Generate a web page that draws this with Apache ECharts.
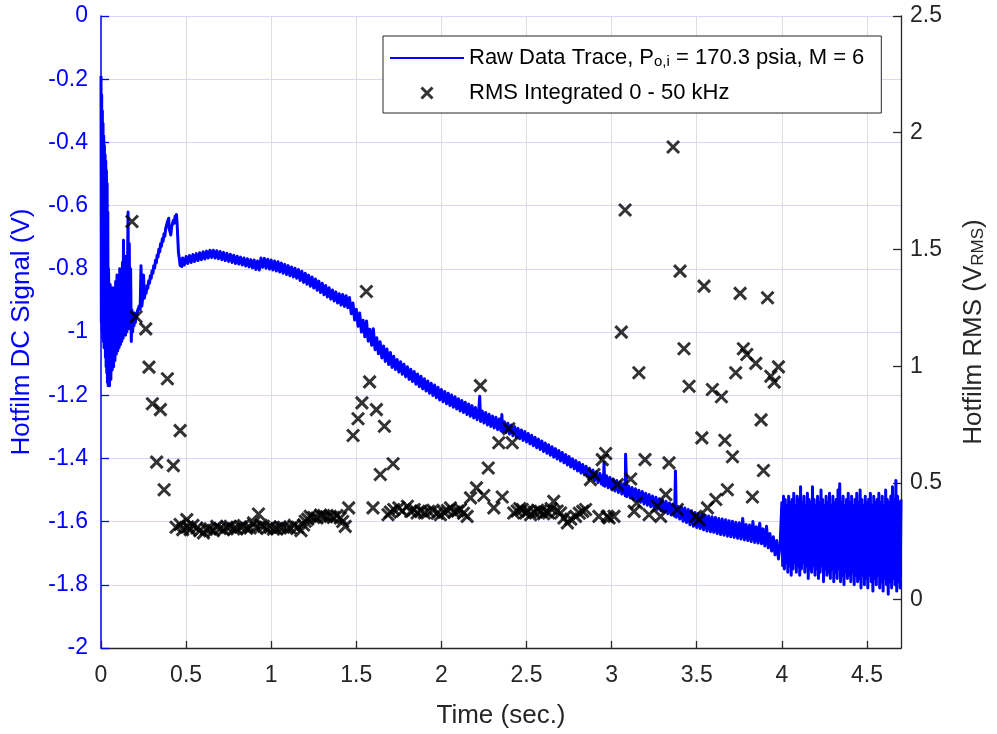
<!DOCTYPE html>
<html><head><meta charset="utf-8">
<script src="https://cdn.jsdelivr.net/npm/echarts@6/dist/echarts.min.js"></script>
<style>html,body{margin:0;padding:0;background:#fff}#chart{width:997px;height:734px}</style>
</head><body><div id="chart"></div>
<script>
// ---------- DATA ----------
const traceName = 'Raw Data Trace, Po,i = 170.3 psia, M = 6';
const rmsName = 'RMS Integrated 0 - 50 kHz';
const rightTicks = [0, 0.5, 1, 1.5, 2, 2.5];

// Raw hot-film trace [time s, volts]
const traceOnset = [[0,-0.19],[0.002,-0.97],[0.004,-0.25],[0.006,-1.00],[0.008,-0.30],[0.010,-1.02],[0.012,-0.34],[0.014,-1.03],[0.016,-0.38],[0.018,-1.05],[0.020,-0.41],[0.022,-1.04],[0.024,-0.44],[0.026,-1.08],[0.028,-0.46],[0.030,-1.11],[0.032,-0.49],[0.034,-1.13],[0.036,-0.53],[0.038,-1.16],[0.040,-0.62],[0.042,-1.17],[0.044,-0.80]];
const traceSettle = [[0.046,-0.86],[0.050,-1.17],[0.054,-0.85],[0.058,-1.15],[0.062,-0.87],[0.066,-1.12],[0.070,-0.86],[0.074,-1.11],[0.078,-0.88],[0.082,-1.09],[0.086,-0.84],[0.090,-1.07],[0.094,-0.82],[0.098,-1.06],[0.102,-0.86],[0.106,-1.05],[0.110,-0.80],[0.114,-1.04],[0.118,-0.84],[0.122,-1.03],[0.126,-0.78],[0.130,-1.02],[0.132,-0.71],[0.136,-1.01],[0.140,-0.80],[0.144,-1.01],[0.148,-0.76],[0.152,-1.00],[0.156,-1.00],[0.159,-0.62],[0.162,-0.99],[0.166,-0.72],[0.170,-0.98],[0.174,-0.80],[0.178,-1.03],[0.182,-0.93],[0.186,-1.00],[0.190,-0.94],[0.194,-0.98],[0.198,-0.94],[0.202,-0.97]];
const traceRise = [[0.205,-0.942],[0.21,-0.953],[0.215,-0.932],[0.22,-0.938],[0.225,-0.917],[0.23,-0.928],[0.235,-0.79],[0.24,-0.918],[0.245,-0.892],[0.25,-0.82],[0.255,-0.893],[0.26,-0.870],[0.265,-0.878],[0.27,-0.854],[0.275,-0.862],[0.28,-0.838],[0.285,-0.846],[0.29,-0.822],[0.295,-0.830],[0.30,-0.806],[0.305,-0.814],[0.31,-0.790],[0.315,-0.798],[0.32,-0.773],[0.325,-0.781],[0.33,-0.756],[0.335,-0.763],[0.34,-0.738],[0.345,-0.746],[0.35,-0.721],[0.355,-0.729],[0.36,-0.705],[0.365,-0.713],[0.37,-0.689],[0.375,-0.697],[0.38,-0.672],[0.385,-0.678],[0.39,-0.652],[0.395,-0.656],[0.398,-0.640],[0.40,-0.673],[0.405,-0.682],[0.41,-0.693],[0.415,-0.667],[0.42,-0.673],[0.425,-0.647],[0.43,-0.656],[0.435,-0.634],[0.44,-0.644],[0.443,-0.628],[0.447,-0.655],[0.45,-0.660],[0.455,-0.748],[0.46,-0.767],[0.465,-0.790],[0.47,-0.770],[0.475,-0.793]];
const tracePlateau = [[0.48,-0.766],[0.49,-0.788],[0.50,-0.761],[0.51,-0.783],[0.52,-0.758],[0.53,-0.780],[0.54,-0.755],[0.55,-0.777],[0.56,-0.752],[0.57,-0.774],[0.58,-0.749],[0.59,-0.771],[0.60,-0.746],[0.61,-0.769],[0.62,-0.744],[0.63,-0.766],[0.64,-0.741],[0.65,-0.764],[0.66,-0.741],[0.67,-0.766],[0.68,-0.743],[0.69,-0.768],[0.70,-0.745],[0.71,-0.771],[0.72,-0.748],[0.73,-0.774],[0.74,-0.751],[0.75,-0.777],[0.76,-0.754],[0.77,-0.780],[0.78,-0.757],[0.79,-0.783],[0.80,-0.760],[0.81,-0.785],[0.82,-0.763],[0.83,-0.788],[0.84,-0.766],[0.85,-0.791],[0.86,-0.768],[0.87,-0.794],[0.88,-0.771],[0.89,-0.797],[0.90,-0.772],[0.91,-0.802],[0.92,-0.775],[0.93,-0.804],[0.94,-0.766],[0.95,-0.795],[0.96,-0.767],[0.97,-0.798],[0.98,-0.770],[0.99,-0.801],[1.00,-0.772],[1.01,-0.804],[1.02,-0.775],[1.03,-0.807],[1.04,-0.778],[1.05,-0.810],[1.06,-0.782],[1.07,-0.814],[1.08,-0.786],[1.09,-0.818],[1.10,-0.790],[1.11,-0.822],[1.12,-0.794],[1.13,-0.826],[1.14,-0.798],[1.15,-0.830],[1.16,-0.802],[1.17,-0.837],[1.18,-0.808],[1.19,-0.843],[1.20,-0.814],[1.21,-0.849],[1.22,-0.820],[1.23,-0.855],[1.24,-0.826],[1.25,-0.861],[1.26,-0.832],[1.27,-0.868],[1.28,-0.839],[1.29,-0.875],[1.30,-0.846],[1.31,-0.882],[1.32,-0.853],[1.33,-0.889],[1.34,-0.860],[1.35,-0.896],[1.36,-0.867],[1.37,-0.902],[1.38,-0.873],[1.39,-0.908],[1.40,-0.879],[1.41,-0.915],[1.42,-0.881],[1.43,-0.919],[1.44,-0.885],[1.45,-0.923]];
const traceDecay = [[1.46,-0.891],[1.47,-0.942],[1.48,-0.908],[1.49,-0.962],[1.50,-0.928],[1.51,-0.982],[1.52,-0.940],[1.53,-1.000],[1.54,-0.963],[1.55,-1.015],[1.56,-0.965],[1.57,-1.029],[1.58,-0.991],[1.59,-1.042],[1.60,-0.990],[1.61,-1.056],[1.62,-1.018],[1.63,-1.069],[1.64,-1.031],[1.65,-1.082],[1.66,-1.044],[1.67,-1.093],[1.68,-1.054],[1.69,-1.103],[1.70,-1.065],[1.71,-1.112],[1.72,-1.077],[1.73,-1.119],[1.74,-1.087],[1.75,-1.127],[1.76,-1.094],[1.77,-1.134],[1.78,-1.102],[1.79,-1.142],[1.80,-1.110],[1.81,-1.150],[1.82,-1.118],[1.83,-1.157],[1.84,-1.125],[1.85,-1.165],[1.86,-1.133],[1.87,-1.173],[1.88,-1.140],[1.89,-1.180],[1.90,-1.148],[1.91,-1.187],[1.92,-1.155],[1.93,-1.194],[1.94,-1.162],[1.95,-1.201],[1.96,-1.168],[1.97,-1.208],[1.98,-1.175],[1.99,-1.215],[2.00,-1.182],[2.01,-1.221],[2.02,-1.188],[2.03,-1.227],[2.04,-1.194],[2.05,-1.233],[2.06,-1.199],[2.07,-1.238],[2.08,-1.205],[2.09,-1.244],[2.10,-1.211],[2.11,-1.250],[2.12,-1.217],[2.13,-1.255],[2.14,-1.222],[2.15,-1.261],[2.16,-1.228],[2.17,-1.267],[2.18,-1.233],[2.19,-1.272],[2.20,-1.239],[2.21,-1.278],[2.22,-1.244],[2.225,-1.203],[2.23,-1.283],[2.24,-1.250],[2.25,-1.288],[2.26,-1.255],[2.27,-1.294],[2.28,-1.260],[2.29,-1.299],[2.30,-1.266],[2.31,-1.304],[2.32,-1.270],[2.33,-1.309],[2.34,-1.275],[2.35,-1.313],[2.355,-1.261],[2.36,-1.316],[2.37,-1.284],[2.38,-1.318],[2.39,-1.289],[2.40,-1.323],[2.41,-1.294],[2.42,-1.328],[2.43,-1.300],[2.44,-1.333],[2.45,-1.305],[2.46,-1.338],[2.47,-1.310],[2.48,-1.343],[2.49,-1.315],[2.50,-1.348],[2.51,-1.321],[2.52,-1.354],[2.53,-1.327],[2.54,-1.360],[2.55,-1.333],[2.56,-1.366],[2.57,-1.339],[2.58,-1.372],[2.59,-1.345],[2.60,-1.378],[2.61,-1.351],[2.62,-1.384],[2.63,-1.357],[2.64,-1.390],[2.65,-1.363],[2.66,-1.396],[2.67,-1.369],[2.68,-1.402],[2.69,-1.375],[2.70,-1.408],[2.71,-1.381],[2.72,-1.414],[2.73,-1.388],[2.74,-1.421],[2.75,-1.394],[2.76,-1.427],[2.77,-1.401],[2.78,-1.433],[2.79,-1.407],[2.80,-1.440],[2.81,-1.413],[2.82,-1.446],[2.83,-1.419],[2.84,-1.452],[2.85,-1.425],[2.86,-1.458],[2.87,-1.431],[2.88,-1.464],[2.89,-1.437],[2.90,-1.470],[2.91,-1.442],[2.92,-1.476],[2.93,-1.447],[2.94,-1.481],[2.95,-1.452],[2.952,-1.486],[2.955,-1.413],[2.96,-1.488],[2.97,-1.455],[2.98,-1.493],[2.99,-1.460],[3.00,-1.498],[3.01,-1.465],[3.02,-1.503],[3.03,-1.470],[3.04,-1.508],[3.05,-1.475],[3.06,-1.513],[3.07,-1.480],[3.08,-1.518],[3.082,-1.387],[3.09,-1.521],[3.10,-1.487],[3.11,-1.525],[3.12,-1.492],[3.13,-1.530],[3.14,-1.496],[3.15,-1.535],[3.16,-1.501],[3.17,-1.539],[3.18,-1.505],[3.19,-1.544],[3.20,-1.510],[3.21,-1.548],[3.22,-1.514],[3.23,-1.553],[3.24,-1.519],[3.25,-1.557],[3.26,-1.523],[3.27,-1.561],[3.28,-1.528],[3.29,-1.566],[3.30,-1.532],[3.31,-1.570],[3.32,-1.536],[3.33,-1.575],[3.34,-1.541],[3.35,-1.579],[3.36,-1.545],[3.37,-1.583],[3.375,-1.440],[3.38,-1.586],[3.39,-1.552],[3.40,-1.592],[3.41,-1.554],[3.42,-1.599],[3.43,-1.557],[3.44,-1.603],[3.45,-1.562],[3.46,-1.610],[3.47,-1.566],[3.48,-1.615],[3.49,-1.571],[3.50,-1.619],[3.51,-1.574],[3.52,-1.622],[3.53,-1.577],[3.54,-1.626],[3.55,-1.580],[3.56,-1.630],[3.57,-1.582],[3.58,-1.632],[3.59,-1.585],[3.60,-1.634],[3.61,-1.587],[3.62,-1.638],[3.63,-1.590],[3.64,-1.641],[3.65,-1.592],[3.66,-1.643],[3.67,-1.594],[3.68,-1.646],[3.69,-1.597],[3.70,-1.648],[3.71,-1.599],[3.72,-1.650],[3.73,-1.602],[3.74,-1.653],[3.75,-1.604],[3.76,-1.655],[3.77,-1.590],[3.78,-1.658],[3.79,-1.609],[3.80,-1.660],[3.81,-1.611],[3.82,-1.663],[3.83,-1.600],[3.84,-1.666],[3.85,-1.616],[3.86,-1.668],[3.87,-1.605],[3.88,-1.670],[3.89,-1.623],[3.90,-1.677],[3.91,-1.615],[3.92,-1.683],[3.93,-1.638],[3.94,-1.693],[3.95,-1.648],[3.96,-1.705],[3.97,-1.660],[3.98,-1.718],[3.99,-1.672]];
const traceNoise = [[4.000,-1.54],[4.005,-1.74],[4.010,-1.52],[4.015,-1.75],[4.020,-1.53],[4.025,-1.73],[4.030,-1.55],[4.035,-1.76],[4.040,-1.52],[4.045,-1.74],[4.050,-1.54],[4.055,-1.77],[4.060,-1.53],[4.065,-1.75],[4.070,-1.51],[4.075,-1.73],[4.080,-1.55],[4.085,-1.76],[4.090,-1.52],[4.095,-1.74],[4.100,-1.53],[4.105,-1.77],[4.110,-1.49],[4.115,-1.75],[4.120,-1.54],[4.125,-1.73],[4.130,-1.52],[4.135,-1.76],[4.140,-1.55],[4.145,-1.74],[4.150,-1.51],[4.155,-1.78],[4.160,-1.53],[4.165,-1.75],[4.170,-1.54],[4.175,-1.76],[4.180,-1.49],[4.185,-1.74],[4.190,-1.53],[4.195,-1.77],[4.200,-1.55],[4.205,-1.75],[4.210,-1.52],[4.215,-1.78],[4.220,-1.54],[4.225,-1.76],[4.230,-1.50],[4.235,-1.74],[4.240,-1.53],[4.245,-1.79],[4.250,-1.55],[4.255,-1.75],[4.260,-1.52],[4.265,-1.77],[4.270,-1.54],[4.275,-1.76],[4.280,-1.51],[4.285,-1.78],[4.290,-1.55],[4.295,-1.75],[4.300,-1.52],[4.305,-1.79],[4.310,-1.54],[4.315,-1.76],[4.320,-1.53],[4.325,-1.78],[4.330,-1.50],[4.335,-1.75],[4.340,-1.48],[4.345,-1.79],[4.350,-1.54],[4.355,-1.77],[4.360,-1.52],[4.365,-1.80],[4.370,-1.55],[4.375,-1.76],[4.380,-1.53],[4.385,-1.78],[4.390,-1.51],[4.395,-1.77],[4.400,-1.54],[4.405,-1.79],[4.410,-1.52],[4.415,-1.76],[4.420,-1.55],[4.425,-1.80],[4.430,-1.53],[4.435,-1.77],[4.440,-1.51],[4.445,-1.79],[4.450,-1.54],[4.455,-1.78],[4.460,-1.50],[4.465,-1.81],[4.470,-1.53],[4.475,-1.77],[4.480,-1.55],[4.485,-1.80],[4.490,-1.52],[4.495,-1.78],[4.500,-1.54],[4.505,-1.81],[4.510,-1.53],[4.515,-1.77],[4.520,-1.51],[4.525,-1.79],[4.530,-1.55],[4.535,-1.82],[4.540,-1.52],[4.545,-1.78],[4.550,-1.54],[4.555,-1.80],[4.560,-1.53],[4.565,-1.77],[4.570,-1.51],[4.575,-1.81],[4.580,-1.54],[4.585,-1.79],[4.590,-1.52],[4.595,-1.82],[4.600,-1.55],[4.605,-1.78],[4.610,-1.50],[4.615,-1.80],[4.620,-1.53],[4.625,-1.83],[4.630,-1.54],[4.635,-1.79],[4.640,-1.52],[4.645,-1.81],[4.650,-1.49],[4.655,-1.78],[4.660,-1.53],[4.665,-1.80],[4.670,-1.47],[4.675,-1.82],[4.680,-1.52],[4.685,-1.79],[4.690,-1.54],[4.695,-1.81],[4.700,-1.53]];

// RMS points [time s, V_RMS]
const rmsEarly = [[0.182,1.62],[0.206,1.212],[0.263,1.160],[0.282,0.996],[0.302,0.839],[0.327,0.589],[0.349,0.814],[0.371,0.471],[0.390,0.946],[0.425,0.574],[0.465,0.724]];
const rmsFloorA = [[0.441,0.310],[0.465,0.322],[0.48,0.300],[0.504,0.343],[0.51,0.312],[0.524,0.300],[0.54,0.318],[0.563,0.307],[0.58,0.296],[0.602,0.286],[0.62,0.302],[0.641,0.303],[0.66,0.296],[0.68,0.314],[0.70,0.305],[0.72,0.300],[0.74,0.310],[0.759,0.314],[0.78,0.303],[0.798,0.303],[0.82,0.312],[0.837,0.317],[0.856,0.306],[0.876,0.307],[0.896,0.329],[0.91,0.310],[0.925,0.367],[0.94,0.318],[0.955,0.314],[0.975,0.305],[0.994,0.310],[1.013,0.302],[1.033,0.303],[1.052,0.312],[1.072,0.310],[1.092,0.305],[1.112,0.307],[1.135,0.318],[1.155,0.310],[1.175,0.296],[1.19,0.320],[1.20,0.336],[1.215,0.345],[1.229,0.357],[1.25,0.352],[1.269,0.350],[1.29,0.362],[1.308,0.360],[1.325,0.355],[1.347,0.357],[1.365,0.352],[1.386,0.360],[1.406,0.350],[1.42,0.335],[1.435,0.314],[1.455,0.393]];
const rmsBurstA = [[1.481,0.703],[1.510,0.775],[1.533,0.843],[1.559,1.320],[1.578,0.933],[1.598,0.393],[1.618,0.814],[1.641,0.536],[1.665,0.743],[1.686,0.364],[1.716,0.582]];
const rmsFloorB = [[1.70,0.375],[1.72,0.386],[1.75,0.393],[1.77,0.380],[1.80,0.400],[1.82,0.378],[1.84,0.386],[1.857,0.371],[1.88,0.380],[1.90,0.372],[1.925,0.378],[1.95,0.383],[1.975,0.370],[1.994,0.364],[2.015,0.375],[2.035,0.382],[2.053,0.393],[2.075,0.375],[2.095,0.380],[2.112,0.386],[2.13,0.370],[2.151,0.357]];
const rmsBurstB = [[2.171,0.436],[2.206,0.479],[2.229,0.917],[2.249,0.446],[2.275,0.564],[2.308,0.393],[2.337,0.672],[2.357,0.440],[2.396,0.732],[2.416,0.672]];
const rmsFloorC = [[2.425,0.371],[2.445,0.380],[2.46,0.390],[2.475,0.386],[2.495,0.372],[2.51,0.380],[2.524,0.364],[2.545,0.375],[2.565,0.383],[2.582,0.378],[2.60,0.368],[2.615,0.376],[2.63,0.371],[2.645,0.390],[2.66,0.421],[2.68,0.380],[2.70,0.371],[2.72,0.350],[2.74,0.329],[2.76,0.345],[2.788,0.357],[2.81,0.370],[2.83,0.378],[2.847,0.386],[2.925,0.357],[2.975,0.357],[2.985,0.350],[3.014,0.357]];
const rmsLate = [[2.876,0.514],[2.896,0.536],[2.945,0.600],[2.965,0.626],[3.034,0.493],[3.057,1.146],[3.079,1.669],[3.112,0.517],[3.132,0.378],[3.147,0.414],[3.160,0.972],[3.196,0.600],[3.220,0.364],[3.268,0.400],[3.288,0.357],[3.318,0.450],[3.337,0.586],[3.361,1.939],[3.386,0.386],[3.402,1.407],[3.425,1.075],[3.455,0.914],[3.494,0.357],[3.514,0.343],[3.530,0.693],[3.543,1.343],[3.563,0.393],[3.592,0.900],[3.612,0.429],[3.645,0.869],[3.665,0.683],[3.680,0.471],[3.710,0.612],[3.729,0.972],[3.755,1.312],[3.774,1.075],[3.794,1.050],[3.827,0.440],[3.847,1.012],[3.878,0.770],[3.892,0.553],[3.916,1.293],[3.935,0.957],[3.955,0.932],[3.980,0.997]];

// ---------- CHART ----------
const traceData = traceOnset.concat(traceSettle, traceRise, tracePlateau, traceDecay, traceNoise);
const rmsData = rmsEarly.concat(rmsFloorA, rmsBurstA, rmsFloorB, rmsBurstB, rmsFloorC, rmsLate);

const FONT = '"Liberation Sans", Arial, Helvetica, sans-serif';
const BLUE = '#0000ff';
const DARK = '#262626';
const xMark = 'path://M0,0L10,10M10,0L0,10';

const chart = echarts.init(document.getElementById('chart'), null, {renderer: 'canvas'});
chart.setOption({
  animation: false,
  backgroundColor: '#fff',
  grid: {left: 101, right: 96, top: 16, bottom: 85, containLabel: false},
  legend: {
    orient: 'vertical', left: 383, top: 36,
    padding: [11, 17, 9, 6],
    itemWidth: 74, itemHeight: 11, itemGap: 13,
    borderColor: DARK, borderWidth: 1, backgroundColor: '#fff',
    textStyle: {fontFamily: FONT, fontSize: 22, color: '#000',
      rich: {a: {fontFamily: FONT, fontSize: 22, color: '#000'},
             sub: {fontFamily: FONT, fontSize: 15, color: '#000', lineHeight: 1, verticalAlign: 'bottom'}}},
    formatter: function (name) {
      return name === traceName ? '{a|Raw Data Trace, P}{sub|o,i}{a| = 170.3 psia, M = 6}' : name;
    },
    data: [
      {name: traceName, itemStyle: {color: 'transparent', borderWidth: 0}, lineStyle: {width: 2, color: BLUE}},
      {name: rmsName, itemStyle: {color: 'transparent', borderColor: '#000', borderWidth: 3}}
    ]
  },
  xAxis: {
    type: 'value', min: 0, max: 4.7, interval: 0.5,
    name: 'Time (sec.)', nameLocation: 'middle', nameGap: 55,
    nameTextStyle: {fontFamily: FONT, fontSize: 26, color: DARK},
    axisLine: {show: true, onZero: false, lineStyle: {color: DARK, width: 1.3}},
    axisTick: {show: true, inside: true, length: 7, lineStyle: {color: DARK, width: 1.3}},
    axisLabel: {fontFamily: FONT, fontSize: 23, color: DARK, margin: 16, showMaxLabel: false},
    splitLine: {show: true, lineStyle: {color: '#dedede', width: 1}}
  },
  yAxis: [
    {
      type: 'value', position: 'left', min: -2, max: 0, interval: 0.2,
      name: 'Hotfilm DC Signal (V)', nameLocation: 'middle', nameGap: 66, nameRotate: 90,
      nameTextStyle: {fontFamily: FONT, fontSize: 26, color: BLUE},
      axisLine: {show: true, onZero: false, lineStyle: {color: BLUE, width: 1.5}},
      axisTick: {show: true, inside: true, length: 8, lineStyle: {color: BLUE, width: 1.3}},
      axisLabel: {fontFamily: FONT, fontSize: 23, color: BLUE, margin: 13},
      splitLine: {show: true, lineStyle: {color: '#d6d6ff', width: 1}}
    },
    {
      type: 'value', position: 'right', min: -0.207, max: 2.5,
      name: '{n|Hotfilm RMS (V}{sub|RMS}{n|)}', nameLocation: 'middle', nameGap: 60, nameRotate: 90,
      nameTextStyle: {fontFamily: FONT, fontSize: 26, color: DARK,
        rich: {n: {fontFamily: FONT, fontSize: 26, color: DARK},
               sub: {fontFamily: FONT, fontSize: 17, color: DARK, lineHeight: 2, verticalAlign: 'bottom'}}},
      axisLine: {show: true, onZero: false, lineStyle: {color: DARK, width: 1.3}},
      axisTick: {show: true, inside: true, length: 8, customValues: rightTicks, lineStyle: {color: DARK, width: 1.3}},
      axisLabel: {fontFamily: FONT, fontSize: 23, color: DARK, margin: 9, customValues: rightTicks},
      splitLine: {show: false}
    }
  ],
  series: [
    {
      name: traceName, type: 'line', xAxisIndex: 0, yAxisIndex: 0,
      data: traceData, symbol: 'none', showSymbol: false,
      lineStyle: {color: BLUE, width: 3, join: 'round'}, itemStyle: {color: BLUE},
      z: 2
    },
    {
      name: rmsName, type: 'scatter', xAxisIndex: 0, yAxisIndex: 1,
      data: rmsData, symbol: xMark, symbolSize: 12,
      itemStyle: {color: 'transparent', borderColor: '#000', borderWidth: 3},
      z: 3
    }
  ]
});
</script>
</body></html>
